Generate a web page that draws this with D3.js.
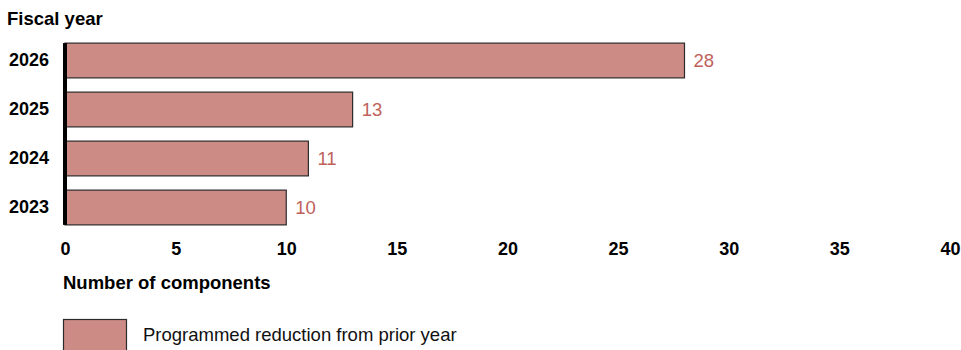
<!DOCTYPE html>
<html><head><meta charset="utf-8">
<script src="https://cdn.jsdelivr.net/npm/d3@7"></script>
<style>body{margin:0;background:#fff;font-family:"Liberation Sans",Arial,sans-serif;}</style>
</head><body><svg id="c" width="961" height="350"></svg>
<script>
const categories = ["2026","2025","2024","2023"];
const values = [28, 13, 11, 10];
const xTicks = [0,5,10,15,20,25,30,35,40];
const legendLabel = "Programmed reduction from prior year";

const svg = d3.select("#c");
const x = d3.scaleLinear().domain([0,40]).range([65,950]);
const y = d3.scaleBand().domain(categories).range([36,232]).paddingInner(0.29).paddingOuter(0.145);
const fill = "#cd8b86", stroke = "#2b2b2b", labelColor = "#c0605a";
const FF = "Liberation Sans, Arial, sans-serif";

svg.append("text").attr("x",7).attr("y",25).attr("font-size",18.5).attr("font-weight","bold").text("Fiscal year");

svg.selectAll("rect.bar").data(values).join("rect").attr("class","bar")
  .attr("x", x(0)).attr("y",(d,i)=>y(categories[i]))
  .attr("width", d=>x(d)-x(0)).attr("height", y.bandwidth())
  .attr("fill", fill).attr("stroke", stroke).attr("stroke-width",1.2);

svg.selectAll("text.val").data(values).join("text").attr("class","val")
  .attr("x", d=>x(d)+9).attr("y",(d,i)=>y(categories[i])+y.bandwidth()/2).attr("dy","0.35em")
  .attr("font-size",18.5).attr("fill",labelColor).text(d=>d);

const ya = svg.append("g").attr("transform","translate(65,0)").call(d3.axisLeft(y).tickSize(0).tickPadding(16));
ya.select(".domain").remove();
ya.selectAll("text").attr("font-size",18).attr("font-weight","bold").attr("fill","#000").attr("font-family",FF);
svg.append("line").attr("x1",65).attr("x2",65).attr("y1",y(categories[0])).attr("y2",y(categories[3])+y.bandwidth()).attr("stroke","#000").attr("stroke-width",4);

const xa = svg.append("g").attr("transform","translate(0,234)").call(d3.axisBottom(x).tickValues(xTicks).tickSize(0).tickPadding(8));
xa.select(".domain").remove();
xa.selectAll("text").attr("font-size",18).attr("font-weight","bold").attr("fill","#000").attr("font-family",FF);

svg.append("text").attr("x",63).attr("y",289).attr("font-size",18.5).attr("font-weight","bold").text("Number of components");

svg.append("rect").attr("x",63.5).attr("y",319.5).attr("width",63).attr("height",34).attr("fill",fill).attr("stroke",stroke).attr("stroke-width",1.2);
svg.append("text").attr("x",143).attr("y",341).attr("font-size",18.5).attr("fill","#111").text(legendLabel);
</script></body></html>
